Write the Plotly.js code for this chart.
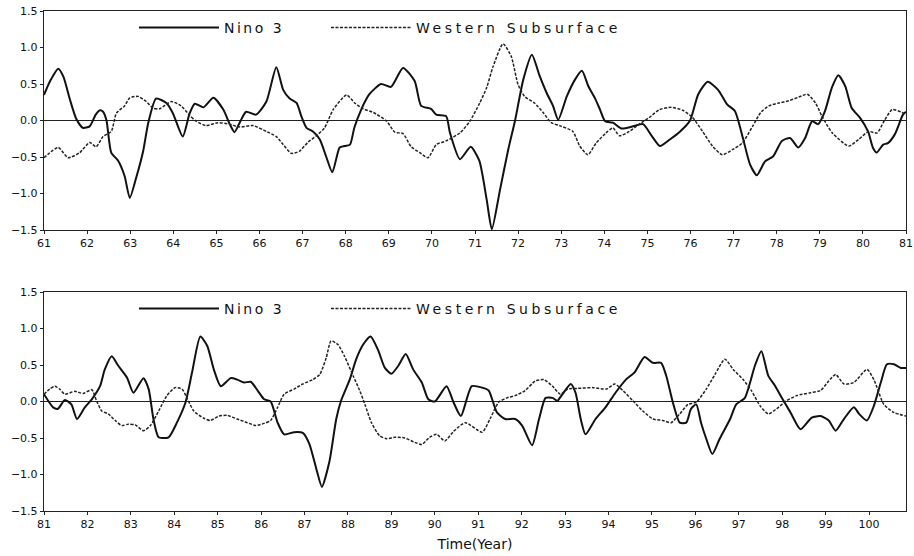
<!DOCTYPE html>
<html>
<head>
<meta charset="utf-8">
<script src="https://cdn.plot.ly/plotly-3.0.1.min.js"></script>
<style>html,body{margin:0;padding:0;background:#fff;}#chart{width:914px;height:556px;}</style>
</head>
<body>
<div id="chart"></div>
<script>
// ---- Top panel (1961-1981) ----
const topNinoYears = [61.0,61.15,61.33,61.45,61.6,61.75,61.9,62.06,62.2,62.3,62.37,62.45,62.56,62.72,62.87,62.99,63.15,63.3,63.42,63.6,63.84,63.99,64.22,64.38,64.5,64.7,64.93,65.16,65.31,65.42,65.54,65.69,65.92,66.16,66.39,66.55,66.7,66.86,66.97,67.09,67.24,67.4,67.55,67.69,67.86,67.98,68.1,68.2,68.36,68.55,68.82,69.05,69.33,69.6,69.75,69.98,70.1,70.33,70.42,70.65,70.9,71.1,71.27,71.39,71.58,71.77,71.93,72.12,72.32,72.5,72.66,72.81,72.93,73.13,73.32,73.48,73.63,73.78,73.9,74.02,74.2,74.4,74.67,74.9,75.1,75.29,75.52,75.76,75.99,76.18,76.4,76.64,76.85,77.03,77.22,77.38,77.54,77.73,77.92,78.12,78.31,78.5,78.66,78.82,78.96,79.12,79.28,79.43,79.59,79.74,79.93,80.12,80.23,80.32,80.47,80.58,80.74,80.93,81.0];
const topNino = [0.35,0.55,0.71,0.60,0.29,0.02,-0.10,-0.08,0.08,0.14,0.12,0.0,-0.44,-0.55,-0.76,-1.06,-0.76,-0.42,-0.03,0.30,0.24,0.10,-0.22,0.10,0.23,0.18,0.31,0.15,-0.05,-0.16,-0.03,0.12,0.08,0.26,0.73,0.42,0.30,0.24,0.06,-0.10,-0.15,-0.26,-0.50,-0.71,-0.37,-0.35,-0.33,-0.10,0.15,0.36,0.50,0.46,0.72,0.54,0.20,0.16,0.08,0.06,-0.17,-0.53,-0.36,-0.55,-1.08,-1.49,-0.95,-0.40,0.0,0.56,0.90,0.61,0.38,0.20,0.01,0.33,0.56,0.68,0.47,0.31,0.15,-0.01,-0.03,-0.11,-0.08,-0.05,-0.21,-0.35,-0.26,-0.15,0.0,0.36,0.53,0.42,0.22,0.13,-0.25,-0.60,-0.75,-0.56,-0.49,-0.28,-0.24,-0.37,-0.24,-0.01,-0.05,0.13,0.45,0.62,0.47,0.17,0.04,-0.15,-0.37,-0.44,-0.33,-0.31,-0.19,0.08,0.12];
const topWestYears = [61.0,61.33,61.56,61.83,62.06,62.21,62.37,62.56,62.68,62.87,62.99,63.18,63.37,63.53,63.68,63.95,64.18,64.38,64.53,64.76,65.03,65.3,65.54,65.85,66.16,66.39,66.55,66.74,66.93,67.12,67.32,67.51,67.71,68.02,68.21,68.41,68.64,68.95,69.14,69.33,69.52,69.72,69.91,70.1,70.33,70.65,70.88,71.11,71.27,71.42,71.65,71.84,72.0,72.15,72.38,72.58,72.77,72.96,73.27,73.43,73.62,73.81,74.04,74.2,74.35,74.58,74.81,75.04,75.28,75.55,75.82,76.05,76.28,76.51,76.74,76.97,77.2,77.44,77.63,77.82,78.05,78.28,78.51,78.71,78.9,79.05,79.29,79.67,79.9,80.13,80.33,80.49,80.68,80.91,81.0];
const topWest = [-0.51,-0.37,-0.51,-0.44,-0.30,-0.36,-0.22,-0.15,0.10,0.20,0.31,0.33,0.26,0.17,0.16,0.26,0.20,0.07,-0.01,-0.07,-0.03,-0.05,-0.09,-0.07,-0.15,-0.22,-0.33,-0.45,-0.42,-0.30,-0.21,-0.10,0.15,0.35,0.24,0.16,0.11,-0.01,-0.16,-0.18,-0.36,-0.44,-0.51,-0.33,-0.28,-0.17,-0.01,0.24,0.45,0.74,1.05,0.88,0.49,0.33,0.24,0.11,-0.03,-0.07,-0.15,-0.35,-0.47,-0.31,-0.17,-0.10,-0.21,-0.15,-0.05,0.04,0.15,0.18,0.14,0.04,-0.15,-0.35,-0.47,-0.40,-0.31,-0.08,0.11,0.20,0.24,0.27,0.32,0.36,0.24,0.06,-0.17,-0.35,-0.26,-0.15,-0.17,-0.01,0.15,0.11,0.08];

// ---- Bottom panel (1981-2000) ----
const botNinoYears = [81.0,81.21,81.32,81.48,81.63,81.76,81.94,82.1,82.29,82.4,82.56,82.71,82.91,83.06,83.29,83.41,83.52,83.64,83.87,84.06,84.26,84.41,84.6,84.76,84.91,85.07,85.3,85.45,85.61,85.76,85.92,86.07,86.22,86.38,86.53,86.76,86.96,87.11,87.27,87.4,87.57,87.73,87.84,88.04,88.19,88.35,88.52,88.69,88.85,89.0,89.16,89.33,89.5,89.7,89.85,90.0,90.27,90.43,90.6,90.85,91.09,91.24,91.43,91.62,91.85,92.01,92.24,92.4,92.55,92.71,92.82,92.94,93.13,93.24,93.36,93.47,93.7,93.93,94.16,94.4,94.6,94.83,95.02,95.21,95.33,95.48,95.64,95.79,95.9,96.02,96.13,96.25,96.39,96.56,96.8,96.94,97.14,97.26,97.37,97.52,97.68,97.84,97.99,98.19,98.42,98.68,98.88,99.07,99.23,99.42,99.65,99.77,99.95,100.11,100.27,100.41,100.57,100.73,100.85];
const botNino = [0.10,-0.08,-0.10,0.02,-0.04,-0.24,-0.08,0.03,0.21,0.44,0.62,0.49,0.33,0.12,0.32,0.17,-0.24,-0.49,-0.49,-0.29,-0.01,0.40,0.89,0.76,0.44,0.21,0.32,0.30,0.26,0.27,0.15,0.03,0.0,-0.29,-0.45,-0.42,-0.43,-0.58,-0.92,-1.17,-0.83,-0.24,0.01,0.30,0.58,0.78,0.89,0.71,0.46,0.38,0.49,0.65,0.44,0.26,0.03,0.0,0.21,-0.01,-0.20,0.21,0.19,0.15,-0.15,-0.24,-0.24,-0.33,-0.60,-0.24,0.05,0.05,0.01,0.10,0.24,0.12,-0.24,-0.45,-0.24,-0.08,0.12,0.30,0.40,0.61,0.53,0.53,0.35,-0.01,-0.29,-0.29,-0.10,-0.04,-0.29,-0.51,-0.72,-0.51,-0.24,-0.04,0.05,0.26,0.49,0.69,0.35,0.21,0.05,-0.15,-0.38,-0.22,-0.20,-0.26,-0.40,-0.24,-0.08,-0.17,-0.26,-0.06,0.26,0.51,0.51,0.46,0.46];
const botWestYears = [81.0,81.13,81.25,81.36,81.48,81.71,81.9,82.1,82.21,82.33,82.48,82.64,82.79,82.94,83.1,83.29,83.45,83.64,83.83,84.02,84.18,84.29,84.45,84.68,84.83,85.03,85.22,85.45,85.68,85.88,86.07,86.22,86.38,86.53,86.76,86.96,87.19,87.35,87.5,87.61,87.77,87.92,88.12,88.27,88.39,88.54,88.73,88.89,89.08,89.31,89.54,89.7,89.88,90.04,90.23,90.43,90.7,91.09,91.27,91.47,91.66,91.85,92.08,92.31,92.51,92.71,92.89,93.06,93.29,93.64,93.95,94.14,94.33,94.56,94.79,95.02,95.25,95.44,95.64,95.83,96.02,96.25,96.45,96.68,96.87,97.1,97.29,97.49,97.68,97.87,98.1,98.33,98.65,98.88,99.07,99.23,99.42,99.65,99.95,100.11,100.34,100.57,100.85];
const botWest = [0.10,0.17,0.21,0.17,0.10,0.14,0.11,0.16,0.01,-0.13,-0.17,-0.26,-0.33,-0.31,-0.32,-0.40,-0.33,-0.13,0.08,0.19,0.17,0.05,-0.13,-0.23,-0.26,-0.20,-0.19,-0.24,-0.29,-0.33,-0.30,-0.26,-0.08,0.10,0.17,0.24,0.30,0.37,0.60,0.83,0.78,0.62,0.35,0.15,-0.04,-0.29,-0.47,-0.51,-0.49,-0.50,-0.56,-0.59,-0.49,-0.45,-0.54,-0.41,-0.29,-0.42,-0.24,-0.01,0.05,0.08,0.15,0.28,0.30,0.21,0.10,0.17,0.18,0.19,0.17,0.24,0.15,0.01,-0.13,-0.24,-0.26,-0.29,-0.17,-0.04,-0.01,0.17,0.37,0.58,0.44,0.30,0.15,-0.06,-0.17,-0.10,0.01,0.08,0.12,0.15,0.28,0.37,0.24,0.26,0.44,0.30,-0.04,-0.15,-0.20];

const topTickVals = [61,62,63,64,65,66,67,68,69,70,71,72,73,74,75,76,77,78,79,80,81];
const botTickVals = [81,82,83,84,85,86,87,88,89,90,91,92,93,94,95,96,97,98,99,100];
const yTickVals = [-1.5,-1.0,-0.5,0.0,0.5,1.0,1.5];
const seriesNames = ['Nino 3', 'Western Subsurface'];
const xTitle = 'Time(Year)';

const FONT = 'DejaVu Sans, Liberation Sans, sans-serif';
const ninoLine = {color:'#111', width:2, shape:'spline', smoothing:0.6};
const westLine = {color:'#222', width:1.5, dash:'3px,1.5px', shape:'spline', smoothing:0.6};
const ninoLabel = '<span style="letter-spacing:2.5px">' + seriesNames[0] + '</span>';
const westLabel = '<span style="letter-spacing:3.6px">' + seriesNames[1] + '</span>';

const traces = [
  {x: topNinoYears, y: topNino, name: ninoLabel, mode:'lines', line: ninoLine, xaxis:'x', yaxis:'y', legend:'legend'},
  {x: topWestYears, y: topWest, name: westLabel, mode:'lines', line: westLine, xaxis:'x', yaxis:'y', legend:'legend2'},
  {x: botNinoYears, y: botNino, name: ninoLabel, mode:'lines', line: ninoLine, xaxis:'x2', yaxis:'y2', legend:'legend3'},
  {x: botWestYears, y: botWest, name: westLabel, mode:'lines', line: westLine, xaxis:'x2', yaxis:'y2', legend:'legend4'}
];

const axisCommon = {
  showline:true, mirror:true, linecolor:'#222', linewidth:1.2,
  ticks:'outside', ticklen:3, tickcolor:'#222', showgrid:false,
  tickfont:{family:FONT, size:11, color:'#111'}
};
const xCommon = Object.assign({}, axisCommon, {zeroline:false, tickmode:'array'});
const yCommon = Object.assign({}, axisCommon, {
  range:[-1.5,1.5], tickmode:'array', tickvals:yTickVals, tickformat:'.1f',
  zeroline:true, zerolinecolor:'#222', zerolinewidth:1
});

const legendCommon = {
  orientation:'h', xanchor:'left', yanchor:'middle', itemwidth:80,
  bgcolor:'rgba(0,0,0,0)', borderwidth:0,
  font:{family:FONT, size:14, color:'#111'}, itemclick:false
};

const layout = {
  width:914, height:556,
  margin:{l:44, r:8, t:11, b:45},
  paper_bgcolor:'#fff', plot_bgcolor:'#fff',
  showlegend:true,
  xaxis: Object.assign({}, xCommon, {domain:[0,1], anchor:'y', range:[61,81], tickvals:topTickVals}),
  yaxis: Object.assign({}, yCommon, {domain:[0.562,1], anchor:'x'}),
  xaxis2: Object.assign({}, xCommon, {domain:[0,1], anchor:'y2', range:[81,100.85], tickvals:botTickVals,
    title:{text:xTitle, font:{family:FONT, size:14, color:'#111'}, standoff:8}}),
  yaxis2: Object.assign({}, yCommon, {domain:[0,0.438], anchor:'x2'}),
  legend:  Object.assign({}, legendCommon, {x:0.1044, y:0.966}),
  legend2: Object.assign({}, legendCommon, {x:0.3271, y:0.966}),
  legend3: Object.assign({}, legendCommon, {x:0.1044, y:0.404}),
  legend4: Object.assign({}, legendCommon, {x:0.3271, y:0.404})
};

Plotly.newPlot('chart', traces, layout, {displayModeBar:false, staticPlot:true});
</script>
</body>
</html>
